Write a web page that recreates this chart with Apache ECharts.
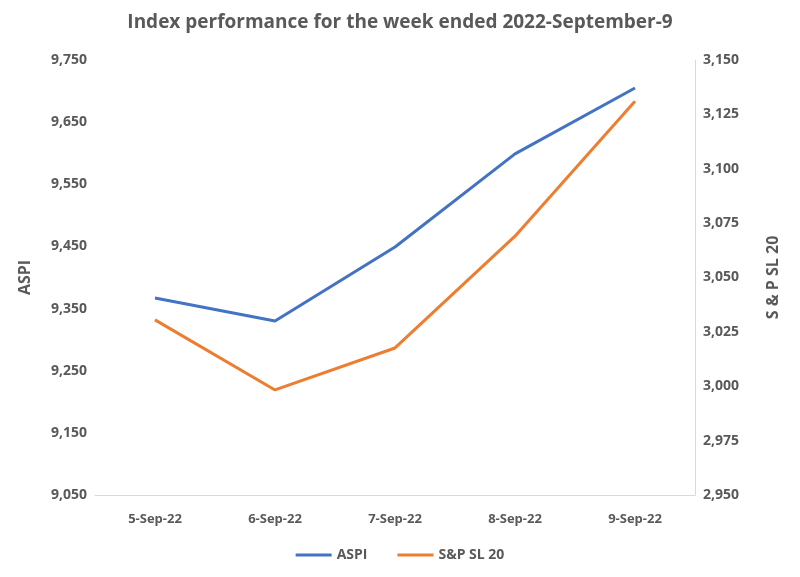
<!DOCTYPE html>
<html><head><meta charset="utf-8">
<script src="https://cdn.jsdelivr.net/npm/echarts@6/dist/echarts.min.js"></script>
<style>html,body{margin:0;padding:0;background:#fff}#c{width:800px;height:577px}</style>
</head><body><div id="c"></div>
<script>
const categories = ['5-Sep-22','6-Sep-22','7-Sep-22','8-Sep-22','9-Sep-22'];
const aspi = [9367, 9330, 9449, 9599, 9705];
const snp = [3030.5, 2998.3, 3017.6, 3069, 3131];
const gray = '#595959';
const font = 'Open Sans';
const chart = echarts.init(document.getElementById('c'));
chart.setOption({
  animation:false,
  textStyle:{fontFamily:font},
  title:{text:'Index performance for the week ended 2022-September-9',left:'center',top:8,
    textStyle:{fontFamily:font,fontSize:19,fontWeight:'bold',color:gray}},
  legend:{bottom:10,itemWidth:36,itemHeight:3,icon:'rect',itemGap:30,
    textStyle:{fontFamily:font,fontSize:14,fontWeight:'bold',color:gray}},
  grid:{left:95,right:105,top:60,bottom:82},
  xAxis:{type:'category',data:categories,
    axisLine:{lineStyle:{color:'#d9d9d9'}},axisTick:{show:false},
    axisLabel:{color:gray,fontWeight:'bold',fontSize:13,margin:18}},
  yAxis:[
    {type:'value',name:'ASPI',nameLocation:'middle',nameGap:62,min:9050,max:9750,interval:100,
     nameTextStyle:{color:gray,fontWeight:'bold',fontSize:16},
     axisLabel:{color:gray,fontWeight:'bold',fontSize:14,formatter:v=>v.toLocaleString('en-US')},
     splitLine:{show:false},axisLine:{show:false},axisTick:{show:false}},
    {type:'value',name:'S & P SL 20',nameLocation:'middle',nameGap:70,nameRotate:90,min:2950,max:3150,interval:25,
     nameTextStyle:{color:gray,fontWeight:'bold',fontSize:16},
     axisLabel:{color:gray,fontWeight:'bold',fontSize:14,formatter:v=>v.toLocaleString('en-US')},
     splitLine:{show:false},axisLine:{show:true,lineStyle:{color:'#d9d9d9'}},axisTick:{show:false}}
  ],
  series:[
    {name:'ASPI',type:'line',data:aspi,yAxisIndex:0,symbol:'none',lineStyle:{width:3,color:'#4472C4'},itemStyle:{color:'#4472C4'}},
    {name:'S&P SL 20',type:'line',data:snp,yAxisIndex:1,symbol:'none',lineStyle:{width:3,color:'#ED7D31'},itemStyle:{color:'#ED7D31'}}
  ]
});
</script></body></html>
